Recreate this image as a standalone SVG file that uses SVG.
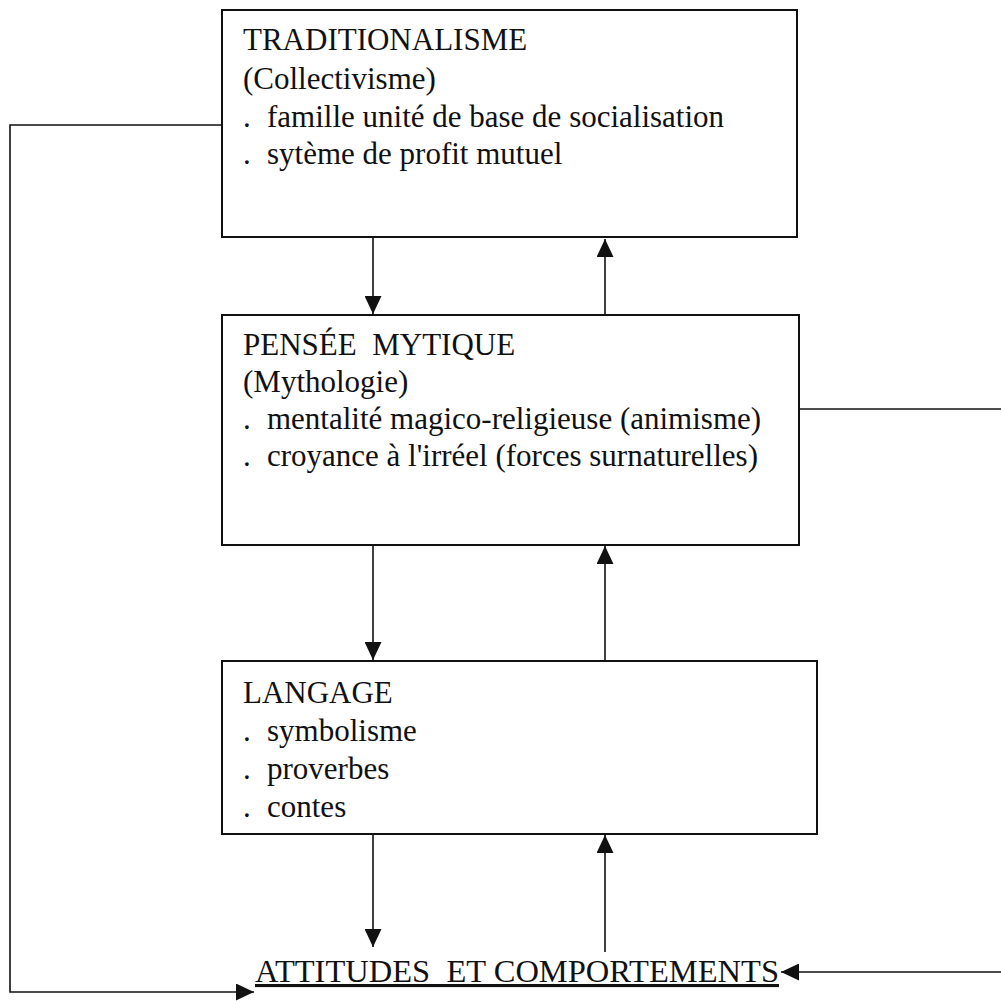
<svg xmlns="http://www.w3.org/2000/svg" width="1001" height="1001" viewBox="0 0 1001 1001">
<style>
.box{fill:#fff;stroke:#111;stroke-width:2}
.t{font-family:"Liberation Serif","Times New Roman",serif;font-size:31px;fill:#111}
.c{fill:none;stroke:#111;stroke-width:1.6}
</style>
<defs>
<marker id="ah" viewBox="0 0 18 17" refX="18" refY="8.5" markerWidth="18" markerHeight="17" orient="auto" markerUnits="userSpaceOnUse">
<path d="M0,0 L18,8.5 L0,17 Z" fill="#111"/>
</marker>
</defs>
<rect width="1001" height="1001" fill="#fff"/>
<g id="connectors">
<path class="c" d="M373,238 V314" marker-end="url(#ah)"/>
<path class="c" d="M605,315 V239" marker-end="url(#ah)"/>
<path class="c" d="M373,545 V660" marker-end="url(#ah)"/>
<path class="c" d="M605,661 V546" marker-end="url(#ah)"/>
<path class="c" d="M373,834 V947" marker-end="url(#ah)"/>
<path class="c" d="M605,952 V835" marker-end="url(#ah)"/>
<path class="c" d="M222,125 H10 V992 H254" marker-end="url(#ah)"/>
<path class="c" d="M799,409 H1001"/>
<path class="c" d="M1001,972 H781" marker-end="url(#ah)"/>
</g>
<g id="traditionalisme">
<rect class="box" x="222" y="10" width="575" height="227"/>
<text class="t" x="243" y="50">TRADITIONALISME</text>
<text class="t" x="243" y="89">(Collectivisme)</text>
<text class="t" x="243" y="127">.</text>
<text class="t" x="267" y="127">famille unité de base de socialisation</text>
<text class="t" x="243" y="164">.</text>
<text class="t" x="267" y="164">sytème de profit mutuel</text>
</g>
<g id="pensee">
<rect class="box" x="222" y="315" width="577" height="230"/>
<text class="t" x="243" y="355">PENSÉE&#160; MYTIQUE</text>
<text class="t" x="243" y="392">(Mythologie)</text>
<text class="t" x="243" y="429">.</text>
<text class="t" x="267" y="429">mentalité magico-religieuse (animisme)</text>
<text class="t" x="243" y="466">.</text>
<text class="t" x="267" y="466">croyance à l'irréel (forces surnaturelles)</text>
</g>
<g id="langage">
<rect class="box" x="222" y="661" width="595" height="173"/>
<text class="t" x="243" y="703">LANGAGE</text>
<text class="t" x="243" y="741">.</text>
<text class="t" x="267" y="741">symbolisme</text>
<text class="t" x="243" y="779">.</text>
<text class="t" x="267" y="779">proverbes</text>
<text class="t" x="243" y="817">.</text>
<text class="t" x="267" y="817">contes</text>
</g>
<g id="attitudes">
<text class="t" x="255" y="982" textLength="524" lengthAdjust="spacingAndGlyphs" text-decoration="underline">ATTITUDES&#160; ET COMPORTEMENTS</text>
</g>
</svg>
